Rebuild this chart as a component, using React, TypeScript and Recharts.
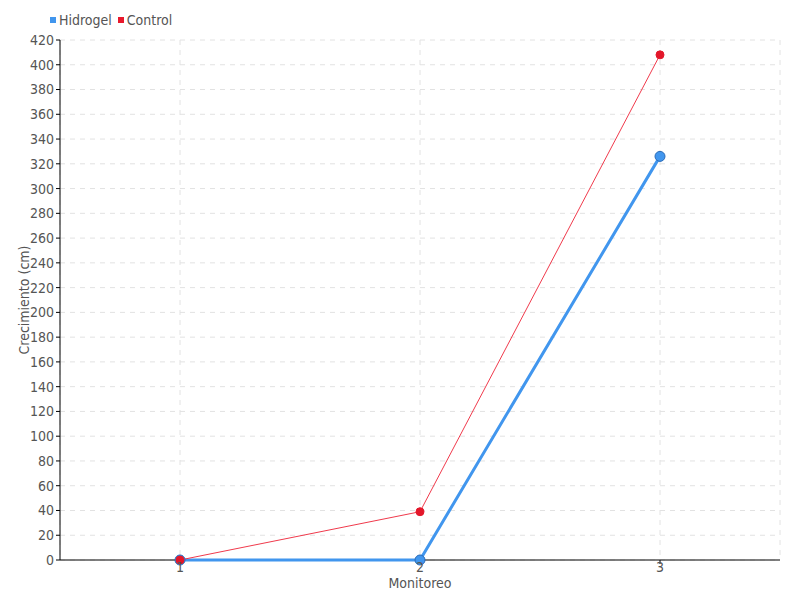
import React from 'react';
import { LineChart, Line, XAxis, YAxis, CartesianGrid, ReferenceLine } from 'recharts';

const monitoreo = [1, 2, 3];
const hidrogel = [0, 0, 326];
const control = [0, 39, 408];
const yTicks = [0, 20, 40, 60, 80, 100, 120, 140, 160, 180, 200, 220, 240, 260, 280, 300, 320, 340, 360, 380, 400, 420];

const seriesNames = ['Hidrogel', 'Control'];
const seriesColors = ['#4196ee', '#e8192c'];

const data = monitoreo.map((m, i) => ({ m, hidrogel: hidrogel[i], control: control[i] }));

const font = '"DejaVu Sans", sans-serif';
const tickStyle = { fill: '#555', fontSize: 14, fontFamily: font, fontStretch: 'condensed' as const };

const App: React.FC = () => (
  <div style={{ position: 'fixed', top: 0, left: 0, width: 800, height: 600, background: '#fff', fontFamily: font }}>
    <div style={{ position: 'absolute', top: 12, left: 50, display: 'flex', gap: 6, fontSize: 14, color: '#555', fontStretch: 'condensed' }}>
      {seriesNames.map((n, i) => (
        <span key={n} style={{ display: 'flex', alignItems: 'center' }}>
          <span style={{ width: 6, height: 6, background: seriesColors[i], marginRight: 3, display: 'inline-block' }} />
          {n}
        </span>
      ))}
    </div>
    <LineChart width={800} height={600} data={data} margin={{ top: 40, right: 20, bottom: 0, left: 0 }}>
      <CartesianGrid strokeDasharray="5 5" stroke="#e2e2e2" />
      <XAxis
        dataKey="m"
        type="number"
        domain={[0.5, 3.5]}
        ticks={monitoreo}
        height={40}
        stroke="#000"
        axisLine={false}
        tickSize={4}
        tick={{ ...tickStyle, dy: -4 }}
        label={{ value: 'Monitoreo', position: 'insideBottom', offset: 12, ...tickStyle }}
      />
      <YAxis
        domain={[0, 420]}
        ticks={yTicks}
        width={60}
        stroke="#000"
        tickSize={4}
        interval={0}
        tick={tickStyle}
        label={{ value: 'Crecimiento (cm)', angle: -90, position: 'insideLeft', offset: 24, ...tickStyle, style: { textAnchor: 'middle', fontStretch: 'condensed' } }}
      />
      <ReferenceLine y={0} stroke="#000" />
      <Line
        dataKey="hidrogel"
        name="Hidrogel"
        stroke="#4196ee"
        strokeWidth={3}
        dot={{ r: 5, fill: '#4196ee', stroke: '#2b6cb8', strokeWidth: 1 }}
        isAnimationActive={false}
      />
      <Line
        dataKey="control"
        name="Control"
        stroke="#f03a4c"
        strokeWidth={1}
        dot={{ r: 4, fill: '#e3172a', stroke: '#e3172a', strokeWidth: 1 }}
        isAnimationActive={false}
      />
    </LineChart>
  </div>
);

export default App;
